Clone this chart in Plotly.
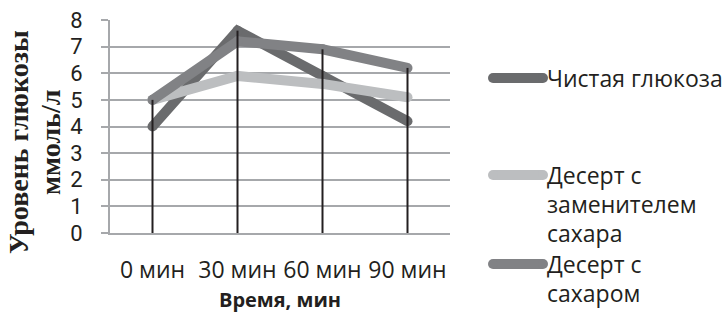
import plotly.graph_objects as go

# ---- data ----
categories = ["0 мин", "30 мин", "60 мин", "90 мин"]
series_names = ["Чистая глюкоза", "Десерт с заменителем сахара", "Десерт с сахаром"]
legend_lines = [["Чистая глюкоза"], ["Десерт с", "заменителем", "сахара"], ["Десерт с", "сахаром"]]
glucose = [4.0, 7.6, 5.9, 4.2]
sweetener = [5.0, 5.9, 5.6, 5.1]
sugar = [5.0, 7.2, 6.9, 6.2]
y_tickvals = [0, 1, 2, 3, 4, 5, 6, 7, 8]
x_title = "Время, мин"
y_title_lines = ["Уровень глюкозы", "ммоль/л"]

# ---- style ----
colors = ["#6a6b6d", "#bcbec0", "#818285"]
grid_color = "#a6a8ab"
ink = "#231f20"
W, H = 728, 320
L, R, T, B = 110, 278, 20, 87
PW, PH = W - L - R, H - T - B

def px_x(px):
    return (px - L) / PW

def px_y(py):
    return (H - B - py) / PH

all_series = [glucose, sweetener, sugar]

fig = go.Figure()
for name, vals, col in zip(series_names, all_series, colors):
    fig.add_trace(go.Scatter(
        x=categories, y=vals, name=name, mode="lines+markers",
        line=dict(color=col, width=10),
        marker=dict(color=col, size=10, line=dict(width=0)),
        showlegend=False, hoverinfo="x+y+name",
    ))

# drop lines from highest value to axis
dx, dy = [], []
for i, c in enumerate(categories):
    top = max(s[i] for s in all_series)
    dx += [c, c, None]
    dy += [0, top, None]
fig.add_trace(go.Scatter(x=dx, y=dy, mode="lines",
                         line=dict(color=ink, width=2),
                         showlegend=False, hoverinfo="skip"))

# manual legend
leg_sym_x0, leg_sym_x1 = 493, 543
leg_text_x = 547
leg_y = [78, 175, 264]
leg_line_gap = 29
shapes = []
annotations = []
for lines, col, yy in zip(legend_lines, colors, leg_y):
    shapes.append(dict(type="line", xref="paper", yref="paper",
                       x0=px_x(leg_sym_x0), x1=px_x(leg_sym_x1),
                       y0=px_y(yy), y1=px_y(yy),
                       line=dict(color=col, width=10)))
    for ex in (leg_sym_x0, leg_sym_x1):
        shapes.append(dict(type="circle", xref="paper", yref="paper",
                           xsizemode="pixel", ysizemode="pixel",
                           xanchor=px_x(ex), yanchor=px_y(yy),
                           x0=-5, x1=5, y0=-5, y1=5,
                           fillcolor=col, line=dict(width=0)))
    for k, txt in enumerate(lines):
        annotations.append(dict(xref="paper", yref="paper",
                                x=px_x(leg_text_x), y=px_y(yy + k * leg_line_gap),
                                xanchor="left", yanchor="middle", align="left",
                                text=txt, showarrow=False,
                                borderpad=0, borderwidth=0,
                                font=dict(family="Open Sans", size=23, color=ink)))

# y-axis title (two centred lines)
for txt, cx in zip(y_title_lines, (18, 50)):
    annotations.append(dict(xref="paper", yref="paper",
                            x=px_x(cx), y=px_y(142),
                            xanchor="center", yanchor="middle",
                            textangle=-90, text=txt, showarrow=False,
                            borderpad=0, borderwidth=0,
                            font=dict(family="Liberation Serif", size=28,
                                      color=ink, weight="bold")))

fig.update_layout(
    width=W, height=H,
    margin=dict(l=L, r=R, t=T, b=B, autoexpand=False),
    paper_bgcolor="white", plot_bgcolor="white",
    shapes=shapes, annotations=annotations,
    font=dict(family="Open Sans", color=ink),
    xaxis=dict(
        type="category", range=[-0.5, len(categories) - 0.5],
        showgrid=False, showline=True, linecolor=grid_color, linewidth=2,
        ticks="", tickfont=dict(family="Open Sans", size=23, color=ink),
        ticklabelstandoff=15,
        title=dict(text=x_title, standoff=9,
                   font=dict(family="Open Sans", size=20, color=ink, weight="bold")),
        automargin=False, fixedrange=True,
    ),
    yaxis=dict(
        range=[0, 8], tickvals=y_tickvals,
        showgrid=True, gridcolor=grid_color, gridwidth=2,
        zeroline=False, showline=True, linecolor=grid_color, linewidth=2,
        ticks="outside", ticklen=7, tickcolor=grid_color, tickwidth=2,
        tickfont=dict(family="Roboto", size=22, color=ink),
        ticklabelstandoff=14,
        automargin=False, fixedrange=True,
    ),
)

fig.write_html("out.html",
               config={"displayModeBar": False, "staticPlot": True},
               post_script="document.body.style.margin='0';document.body.style.overflow='hidden';")
